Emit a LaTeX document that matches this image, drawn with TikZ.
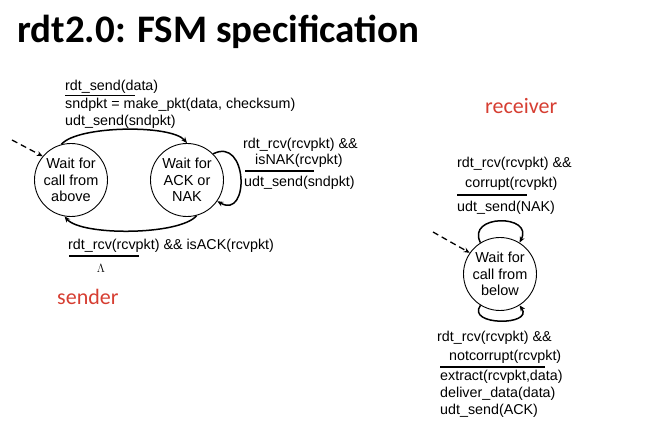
\documentclass[tikz,border=0pt]{standalone}
\usepackage{fontspec}
\setmainfont{Liberation Sans}
\newfontfamily\headfont{Carlito}
\usetikzlibrary{arrows.meta}
\definecolor{rolered}{RGB}{214,62,50}
\begin{document}
\begin{tikzpicture}[x=1pt,y=-1pt,
  state/.style={draw,line width=0.9pt,circle,minimum size=73pt,inner sep=0pt,
    align=center,font=\fontsize{14.5}{16.5}\selectfont},
  lbl/.style={anchor=base west,inner sep=0pt,font=\fontsize{14.3}{16}\selectfont},
  rule/.style={line width=1.3pt},
  arr/.style={line width=1.5pt,-{Stealth[length=6pt,width=5pt]}},
  init/.style={line width=1.3pt,dash pattern=on 6pt off 4pt,-{Stealth[length=6pt,width=5pt]}},
  role/.style={anchor=base west,inner sep=0pt,text=rolered,font=\headfont\fontsize{22}{24}\selectfont}]
\useasboundingbox (0,0) rectangle (646,430);

% heading
\node[anchor=base west,inner sep=0pt,font=\headfont\bfseries\fontsize{39}{44}\selectfont]
  (title) at (17,43) {rdt2.0: FSM specification};

% ---------- sender ----------
\node[state] (above) at (71,180) {Wait for\\call from\\above};
\node[state] (acknak) at (187,180) {Wait for\\ACK or\\NAK};
\coordinate (sstart) at (12,140);
\draw[init] (sstart) -- (above.140);

\draw[arr] (above.105) to[out=50,in=130,looseness=0.5] (acknak.90);
\draw[arr] (acknak.-75) to[out=-130,in=-50,looseness=0.5] (above.-100);
\draw[arr] (acknak.45) .. controls (248,136) and (250,220) .. (acknak.-35);

\node[lbl] (snd1) at (65,91) {rdt\_send(data)};
\draw[rule] (65,95.5) -- (135,95.5);
\node[lbl] (snd2) at (65,109) {sndpkt = make\_pkt(data, checksum)};
\node[lbl] (snd3) at (65,126) {udt\_send(sndpkt)};

\node[lbl] (nak1) at (243,149) {rdt\_rcv(rcvpkt) \&\&};
\node[lbl] (nak2) at (255,165) {isNAK(rcvpkt)};
\draw[rule] (245,171) -- (314,171);
\node[lbl] (nak3) at (244,187) {udt\_send(sndpkt)};

\node[lbl] (ack1) at (68,250) {rdt\_rcv(rcvpkt) \&\& isACK(rcvpkt)};
\draw[rule] (69,256) -- (139,256);
\node[anchor=base,inner sep=0pt,font=\fontsize{13}{14}\selectfont] (ack2) at (101,273) {$\Lambda$};

\node[role] (sender) at (57,305) {sender};

% ---------- receiver ----------
\node[role] (receiver) at (485,114) {receiver};
\node[state] (below) at (500,274) {Wait for\\call from\\below};
\coordinate (rstart) at (433,232);
\draw[init] (rstart) -- (below.145);

\draw[arr] (below.122) .. controls (466,214) and (534,214) .. (below.58);
\draw[arr] (below.-122) .. controls (466,326) and (534,326) .. (below.-58);

\node[lbl] (cor1) at (457,168) {rdt\_rcv(rcvpkt) \&\&};
\node[lbl] (cor2) at (465,188) {corrupt(rcvpkt)};
\draw[rule] (457,195) -- (527,195);
\node[lbl] (cor3) at (457,212) {udt\_send(NAK)};

\node[lbl] (ok1) at (437,342) {rdt\_rcv(rcvpkt) \&\&};
\node[lbl] (ok2) at (449,361) {notcorrupt(rcvpkt)};
\draw[rule] (440,367) -- (545,367);
\node[lbl] (ok3) at (440,381) {extract(rcvpkt,data)};
\node[lbl] (ok4) at (440,398) {deliver\_data(data)};
\node[lbl] (ok5) at (440,415) {udt\_send(ACK)};
\end{tikzpicture}
\end{document}
